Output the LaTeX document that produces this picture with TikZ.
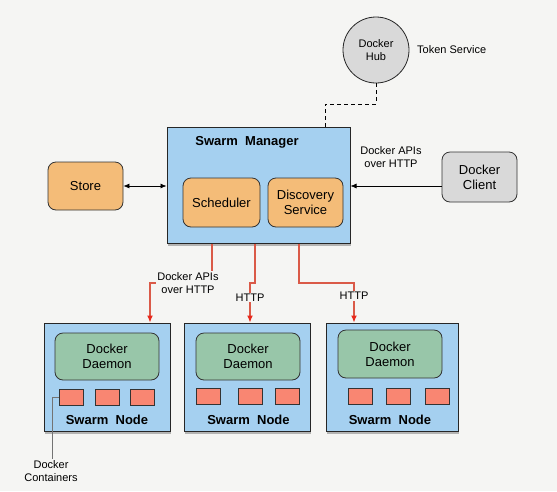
\documentclass[tikz,border=0pt]{standalone}
\usepackage{fontspec}
\setmainfont{Liberation Sans}
\usetikzlibrary{arrows.meta,shadows}

\definecolor{bgcol}{HTML}{F5F5F3}
\definecolor{boxblue}{HTML}{A5D0F0}
\definecolor{boxorange}{HTML}{F4BC78}
\definecolor{boxgray}{HTML}{D9D9D9}
\definecolor{boxgreen}{HTML}{98C6A9}
\definecolor{boxred}{HTML}{F98672}
\definecolor{linered}{HTML}{DA5A48}
\definecolor{tipred}{HTML}{E8291C}

\begin{document}
\begin{tikzpicture}[x=1pt, y=-1pt,
    outer/.style={rectangle, draw=black!85, line width=1pt, fill=boxblue,
                  drop shadow={shadow xshift=1pt, shadow yshift=-3pt,
                               opacity=0.55}},
    inner/.style={rectangle, draw=black!80, line width=0.8pt,
                  rounded corners=8pt, align=center,
                  font=\fontsize{13}{15}\selectfont},
    ctr/.style={rectangle, draw=black!80, line width=0.8pt, fill=boxred,
                minimum width=24pt, minimum height=16pt, inner sep=0pt},
    title/.style={font=\fontsize{13}{15}\selectfont\bfseries},
    lbl/.style={font=\fontsize{11}{13}\selectfont, align=center,
                inner sep=1pt},
    arr/.style={-{Latex[length=6pt,width=5pt]}, line width=0.7pt},
    darr/.style={{Latex[length=6pt,width=5pt]}-{Latex[length=6pt,width=5pt]},
                 line width=0.7pt},
    redarr/.style={-{Latex[length=7pt,width=6pt,color=tipred]},
                   draw=linered, line width=1.2pt},
  ]

  % Canvas
  \fill[bgcol] (0,0) rectangle (557,491);
  \useasboundingbox (0,0) rectangle (557,491);

  % Docker Hub
  \node[circle, draw=black!85, line width=0.8pt, fill=boxgray,
        minimum size=66pt, align=center, font=\fontsize{11}{13}\selectfont]
    (hub) at (376,50) {Docker\\Hub};
  \node[lbl, anchor=west] (token) at (416,50) {Token Service};

  % Swarm Manager
  \node[outer, minimum width=183pt, minimum height=116pt]
    (mgr) at (258.5,185) {};
  \node[title] (mgrtitle) at (247,142) {Swarm\ \ Manager};
  \node[inner, fill=boxorange, minimum width=77pt, minimum height=49pt]
    (sched) at (221.5,202.5) {Scheduler};
  \node[inner, fill=boxorange, minimum width=75pt, minimum height=49pt]
    (disc) at (305.5,202.5) {Discovery\\Service};

  % Store and client
  \node[inner, fill=boxorange, minimum width=75pt, minimum height=48pt]
    (store) at (85.5,186) {Store};
  \node[inner, fill=boxgray, minimum width=75pt, minimum height=50pt]
    (client) at (479.5,177) {Docker\\Client};
  \node[lbl] (apis) at (391,157) {Docker APIs\\over HTTP};

  \draw[darr] (store.east) -- (store -| mgr.west);
  \draw[arr] (client.west |- store) -- (mgr.east |- store);

  % Token link
  \coordinate (hubjoin) at (325,104);
  \draw[line width=1pt, dash pattern=on 4pt off 3pt]
    (hub.south) |- (hubjoin) -- (hubjoin |- mgr.north);

  % Swarm nodes
  \node[outer, minimum width=126pt, minimum height=108pt] (n1) at (107,377) {};
  \node[outer, minimum width=126pt, minimum height=108pt] (n2) at (247,377) {};
  \node[outer, minimum width=132pt, minimum height=108pt] (n3) at (392,377) {};

  \node[inner, fill=boxgreen, minimum width=104pt, minimum height=47pt]
    (d1) at (107,356.5) {Docker\\Daemon};
  \node[inner, fill=boxgreen, minimum width=104pt, minimum height=47pt]
    (d2) at (248,356.5) {Docker\\Daemon};
  \node[inner, fill=boxgreen, minimum width=104pt, minimum height=48pt]
    (d3) at (390,354) {Docker\\Daemon};

  \node[ctr] (c11) at (71,397) {};
  \node[ctr] (c12) at (107,397) {};
  \node[ctr] (c13) at (142,397) {};
  \node[ctr] (c21) at (208,396) {};
  \node[ctr] (c22) at (250,396) {};
  \node[ctr] (c23) at (287.5,396) {};
  \node[ctr] (c31) at (360,396) {};
  \node[ctr] (c32) at (398.5,396) {};
  \node[ctr] (c33) at (437,396) {};

  \node[title] (s1) at (107,420) {Swarm\ \ Node};
  \node[title] (s2) at (248.5,420) {Swarm\ \ Node};
  \node[title] (s3) at (390,420) {Swarm\ \ Node};

  % Manager to nodes
  \coordinate (j1) at (150,283);
  \coordinate (j2) at (250,283);
  \coordinate (j3) at (354,283);
  \draw[redarr] ([xshift=-46.5pt]mgr.south) |- (j1) -- (j1 |- n1.north);
  \draw[redarr] ([xshift=-3.5pt]mgr.south) |- (j2) -- (j2 |- n2.north);
  \draw[redarr] ([xshift=40.5pt]mgr.south) |- (j3) -- (j3 |- n3.north);
  \node[lbl, fill=bgcol] (l1) at (188,283) {Docker APIs\\over HTTP};
  \node[lbl, fill=bgcol] (l2) at (250,297.5) {HTTP};
  \node[lbl, fill=bgcol] (l3) at (354,296) {HTTP};

  % Containers callout
  \node[lbl] (dc) at (51,471) {Docker\\Containers};
  \draw[black!55, line width=0.6pt] (c11.west) -| ([xshift=1.5pt]dc.north);

\end{tikzpicture}
\end{document}
